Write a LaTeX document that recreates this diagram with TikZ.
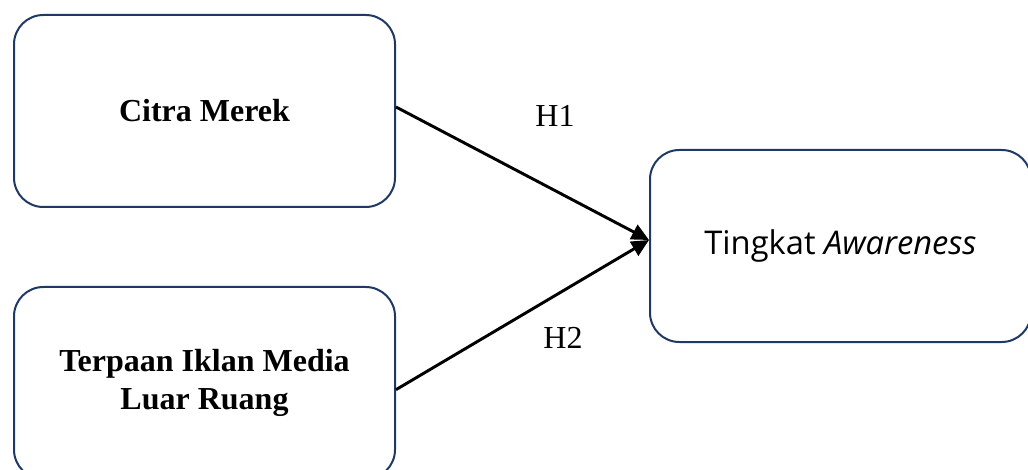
\documentclass[tikz,border=0pt]{standalone}
\usepackage{fontspec}
\setmainfont{Liberation Serif}
\newfontfamily\sansf{Open Sans}
\usetikzlibrary{arrows.meta}
\definecolor{boxline}{RGB}{31,56,100}

\begin{document}
\begin{tikzpicture}[x=0.75pt,y=-0.75pt]
\useasboundingbox (0,0) rectangle (1028,470);
\clip (0,0) rectangle (1028,470);
\begin{scope}[every node/.style={rectangle,draw=boxline,line width=1.5pt,rounded corners=22pt,
    minimum width=285.75pt,minimum height=144pt,align=center,font=\fontsize{24}{29}\selectfont\bfseries}]
    \node (cm) at (204.5,111){Citra Merek};
    \node (ti) at (204.5,383){Terpaan Iklan Media\\Luar Ruang};
    \node[font=\sansf\fontsize{24.5}{29}\selectfont] (ta) at (840.5,246){Tingkat \textit{Awareness}};
\end{scope}

    \path [-{Triangle[length=13pt,width=12pt]},line width=2.2pt] ([yshift=3pt]cm.east) edge ([yshift=4.5pt]ta.west);
    \path [-{Triangle[length=13pt,width=12pt]},line width=2.2pt] ([yshift=-5pt]ti.east) edge ([yshift=4.5pt]ta.west);

    \node[font=\fontsize{24}{29}\selectfont] (h1) at (555,116){H1};
    \node[font=\fontsize{24}{29}\selectfont] (h2) at (563,338){H2};

\end{tikzpicture}
\end{document}
